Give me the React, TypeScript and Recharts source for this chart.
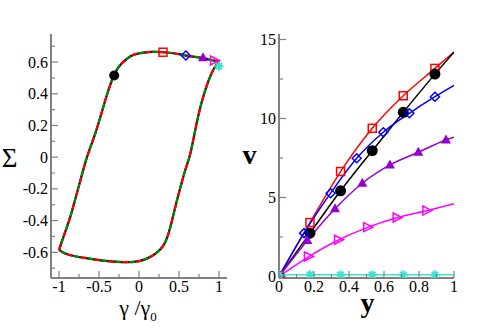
import { ComposedChart, Line, Scatter, XAxis, YAxis } from 'recharts';

const serif = "'Liberation Serif', 'DejaVu Serif', serif";
const frame = '#808080';

// left panel: Sigma vs gamma/gamma0 loop
const loopGamma = [
  -1.0, -0.945, -0.86, -0.8, -0.744, -0.65, -0.535, -0.41, -0.31, -0.22, -0.1, 0.0, 0.15, 0.3, 0.45, 0.59,
  0.8, 0.95, 1.0, 0.946, 0.84, 0.737, 0.65, 0.59, 0.507, 0.423, 0.318, 0.15, 0.0, -0.2, -0.45, -0.62, -0.8,
  -0.92, -1.0,
];
const loopSigma = [
  -0.584, -0.504, -0.378, -0.27, -0.168, 0.0, 0.168, 0.378, 0.52, 0.59, 0.638, 0.655, 0.664, 0.662, 0.654,
  0.641, 0.625, 0.608, 0.598, 0.567, 0.441, 0.252, 0.04, -0.063, -0.21, -0.378, -0.546, -0.626, -0.656, -0.662,
  -0.652, -0.64, -0.625, -0.608, -0.584,
];

const pointKinds = ['circle', 'square', 'diamond', 'triangle', 'rtriangle', 'star'];
const pointGamma = [-0.31, 0.3, 0.586, 0.8, 0.95, 1.0];
const pointSigma = [0.515, 0.662, 0.641, 0.627, 0.61, 0.574];

const gammaTicks = [-1, -0.75, -0.5, -0.25, 0, 0.25, 0.5, 0.75, 1];
const gammaLabels = ['-1', '', '-0.5', '', '0', '', '0.5', '', '1'];
const sigmaTicks = [-0.7, -0.6, -0.5, -0.4, -0.3, -0.2, -0.1, 0, 0.1, 0.2, 0.3, 0.4, 0.5, 0.6, 0.7];
const sigmaLabels = ['', '-0.6', '', '-0.4', '', '-0.2', '', '0', '', '0.2', '', '0.4', '', '0.6', ''];

// right panel: v(y) profiles, one per marker kind
const squareY = [0, 0.177, 0.352, 0.533, 0.71, 0.891];
const squareV = [0, 3.41, 6.64, 9.38, 11.44, 13.17];
const circleY = [0, 0.177, 0.352, 0.533, 0.71, 0.891];
const circleV = [0, 2.74, 5.42, 7.96, 10.39, 12.81];
const diamondY = [0, 0.143, 0.295, 0.444, 0.596, 0.745, 0.891];
const diamondV = [0, 2.74, 5.27, 7.48, 9.13, 10.33, 11.38];
const triangleY = [0, 0.162, 0.32, 0.476, 0.634, 0.796, 0.954];
const triangleV = [0, 2.28, 4.28, 5.9, 7.06, 7.86, 8.64];
const rtriangleY = [0, 0.171, 0.343, 0.51, 0.678, 0.848];
const rtriangleV = [0, 1.26, 2.32, 3.12, 3.73, 4.17];
const starY = [0, 0.177, 0.352, 0.533, 0.71, 0.891];
const starV = [0.1, 0.1, 0.1, 0.1, 0.1, 0.1];
// value of each fitted curve at y = 1
const endV = { square: 14.22, circle: 14.2, diamond: 12.1, triangle: 8.81, rtriangle: 4.6, star: 0.1 };

const yTicks = [0, 0.1, 0.2, 0.3, 0.4, 0.5, 0.6, 0.7, 0.8, 0.9, 1];
const yLabels = ['0', '', '0.2', '', '0.4', '', '0.6', '', '0.8', '', '1'];
const vTicks = [0, 2.5, 5, 7.5, 10, 12.5, 15];
const vLabels = ['0', '', '5', '', '10', '', '15'];

const colors: Record<string, string> = {
  circle: '#000000',
  square: '#ff0000',
  diamond: '#0000ff',
  triangle: '#9400d3',
  rtriangle: '#ff00ff',
  star: '#40e0d0',
};

const profiles = [
  { kind: 'square', ys: squareY, vs: squareV },
  { kind: 'circle', ys: circleY, vs: circleV },
  { kind: 'diamond', ys: diamondY, vs: diamondV },
  { kind: 'triangle', ys: triangleY, vs: triangleV },
  { kind: 'rtriangle', ys: rtriangleY, vs: rtriangleV },
  { kind: 'star', ys: starY, vs: starV },
];

function Mark({ cx, cy, kind, size }: { cx: number; cy: number; kind: string; size: number }) {
  const c = colors[kind];
  const h = size / 2;
  if (cx == null || cy == null) return null;
  switch (kind) {
    case 'circle':
      return <circle cx={cx} cy={cy} r={h} fill={c} />;
    case 'square':
      return <rect x={cx - h + 0.5} y={cy - h + 0.5} width={size - 1} height={size - 1} fill="none" stroke={c} strokeWidth={1.5} />;
    case 'diamond':
      return <polygon points={`${cx},${cy - h} ${cx + h},${cy} ${cx},${cy + h} ${cx - h},${cy}`} fill="none" stroke={c} strokeWidth={1.5} />;
    case 'triangle':
      return <polygon points={`${cx},${cy - h - 1} ${cx + h + 0.5},${cy + h - 1} ${cx - h - 0.5},${cy + h - 1}`} fill={c} />;
    case 'rtriangle':
      return <polygon points={`${cx + h},${cy} ${cx - h},${cy - h} ${cx - h},${cy + h}`} fill="none" stroke={c} strokeWidth={1.5} />;
    default:
      return (
        <g stroke={c} strokeWidth={2}>
          <line x1={cx - h} y1={cy} x2={cx + h} y2={cy} />
          <line x1={cx} y1={cy - h} x2={cx} y2={cy + h} />
          <line x1={cx - h * 0.7} y1={cy - h * 0.7} x2={cx + h * 0.7} y2={cy + h * 0.7} />
          <line x1={cx - h * 0.7} y1={cy + h * 0.7} x2={cx + h * 0.7} y2={cy - h * 0.7} />
        </g>
      );
  }
}

const labelStyle = { fontFamily: serif, fontSize: 16, fill: '#000' };

// inward pointing ticks, grace style
const makeTick = (side: string, values: number[], labels: string[], text: boolean) => (props: any) => {
  const { x, y, payload } = props;
  const i = values.indexOf(payload.value);
  const label = i >= 0 ? labels[i] : '';
  const len = label ? 7 : 4;
  let line;
  let t = null;
  if (side === 'bottom') {
    line = <line x1={x} x2={x} y1={y} y2={y - len} />;
    if (text && label) t = <text x={x} y={y + 14} textAnchor="middle" style={labelStyle}>{label}</text>;
  } else if (side === 'top') {
    line = <line x1={x} x2={x} y1={y} y2={y + len} />;
  } else if (side === 'left') {
    line = <line x1={x} x2={x + len} y1={y} y2={y} />;
    if (text && label) t = <text x={x - 3} y={y + 5.5} textAnchor="end" style={labelStyle}>{label}</text>;
  } else {
    line = <line x1={x} x2={x - len} y1={y} y2={y} />;
  }
  return (
    <g>
      <g stroke={frame} strokeWidth={1.2}>{line}</g>
      {t}
    </g>
  );
};

const axisLine = { stroke: frame, strokeWidth: 2 };

function LoopPanel() {
  const loop = loopGamma.map((g, i) => ({ g, s: loopSigma[i] }));
  const gDomain = [-1.1, 1.1];
  const sDomain = [-0.762, 0.777];
  return (
    <ComposedChart width={250} height={331} margin={{ top: 34, right: 23, bottom: 23, left: 0 }}>
      <XAxis dataKey="g" type="number" domain={gDomain} ticks={gammaTicks} interval={0} allowDataOverflow
        height={30} tickSize={0} tickMargin={0} tickLine={false} axisLine={axisLine}
        tick={makeTick('bottom', gammaTicks, gammaLabels, true)} />
      <XAxis xAxisId="top" orientation="top" type="number" domain={gDomain} ticks={gammaTicks} interval={0} allowDataOverflow
        height={0} tickSize={0} tickMargin={0} tickLine={false} axisLine={axisLine}
        tick={makeTick('top', gammaTicks, gammaLabels, false)} />
      <YAxis dataKey="s" type="number" domain={sDomain} ticks={sigmaTicks} interval={0} allowDataOverflow
        width={51} tickSize={0} tickMargin={0} tickLine={false} axisLine={axisLine}
        tick={makeTick('left', sigmaTicks, sigmaLabels, true)} />
      <YAxis yAxisId="right" orientation="right" type="number" domain={sDomain} ticks={sigmaTicks} interval={0} allowDataOverflow
        width={0} tickSize={0} tickMargin={0} tickLine={false} axisLine={axisLine}
        tick={makeTick('right', sigmaTicks, sigmaLabels, false)} />
      <Line data={loop} dataKey="s" type="natural" stroke="#000" strokeWidth={2.2} dot={false} activeDot={false} isAnimationActive={false} />
      <Line data={loop} dataKey="s" type="natural" stroke="#ff0000" strokeWidth={2.2} strokeDasharray="6 8" dot={false} activeDot={false} isAnimationActive={false} />
      <Line data={loop} dataKey="s" type="natural" stroke="#008b00" strokeWidth={2.2} strokeDasharray="6 8" strokeDashoffset={7} dot={false} activeDot={false} isAnimationActive={false} />
      {pointKinds.map((k, i) => (
        <Scatter key={k} data={[{ g: pointGamma[i], s: pointSigma[i] }]} dataKey="s" isAnimationActive={false}
          shape={(p: any) => <Mark cx={p.cx} cy={p.cy} kind={k} size={k === 'circle' ? 10 : 9} />} />
      ))}
    </ComposedChart>
  );
}

function ProfilePanel() {
  const yDomain = [0, 1];
  const vDomain = [-0.1, 15.35];
  return (
    <ComposedChart width={241} height={331} margin={{ top: 34, right: 37, bottom: 23, left: 0 }}>
      <XAxis dataKey="y" type="number" domain={yDomain} ticks={yTicks} interval={0} allowDataOverflow
        height={30} tickSize={0} tickMargin={0} tickLine={false} axisLine={axisLine}
        tick={makeTick('bottom', yTicks, yLabels, true)} />
      <XAxis xAxisId="top" orientation="top" type="number" domain={yDomain} ticks={yTicks} interval={0} allowDataOverflow
        height={0} tickSize={0} tickMargin={0} tickLine={false} axisLine={axisLine}
        tick={makeTick('top', yTicks, yLabels, false)} />
      <YAxis dataKey="v" type="number" domain={vDomain} ticks={vTicks} interval={0} allowDataOverflow
        width={29} tickSize={0} tickMargin={0} tickLine={false} axisLine={axisLine}
        tick={makeTick('left', vTicks, vLabels, true)} />
      <YAxis yAxisId="right" orientation="right" type="number" domain={vDomain} ticks={vTicks} interval={0} allowDataOverflow
        width={0} tickSize={0} tickMargin={0} tickLine={false} axisLine={axisLine}
        tick={makeTick('right', vTicks, vLabels, false)} />
      {profiles.map((p) => (
        <Line key={'l' + p.kind}
          data={[...p.ys.map((y, i) => ({ y, v: p.vs[i] })), { y: 1, v: endV[p.kind as keyof typeof endV] }]}
          dataKey="v" type="monotone" stroke={colors[p.kind]} strokeWidth={1.5}
          dot={false} activeDot={false} isAnimationActive={false} />
      ))}
      {profiles.map((p) => (
        <Scatter key={'s' + p.kind} data={p.ys.map((y, i) => ({ y, v: p.vs[i] }))} dataKey="v" isAnimationActive={false}
          shape={(s: any) => <Mark cx={s.cx} cy={s.cy} kind={p.kind} size={p.kind === 'circle' ? 11 : 9} />} />
      ))}
    </ComposedChart>
  );
}

export default function App() {
  return (
    <div style={{ position: 'fixed', left: 0, top: 0, width: 491, height: 331, background: '#fff' }}>
      <div style={{ position: 'absolute', left: 0, top: 0 }}>
        <LoopPanel />
      </div>
      <div style={{ position: 'absolute', left: 250, top: 0 }}>
        <ProfilePanel />
      </div>
      <svg width={491} height={331} style={{ position: 'absolute', left: 0, top: 0, pointerEvents: 'none' }}>
        <g style={{ fontFamily: serif }} fill="#000">
          <text x={9.5} y={167} fontSize={27} textAnchor="middle">Σ</text>
          <text x={138} y={315} fontSize={22} textAnchor="middle">
            γ /γ<tspan fontSize={13} dy={6}>0</tspan>
          </text>
          <text x={249.5} y={164} fontSize={28} fontWeight="bold" textAnchor="middle">v</text>
          <text x={367.5} y={312} fontSize={28} fontWeight="bold" textAnchor="middle">y</text>
        </g>
      </svg>
    </div>
  );
}
